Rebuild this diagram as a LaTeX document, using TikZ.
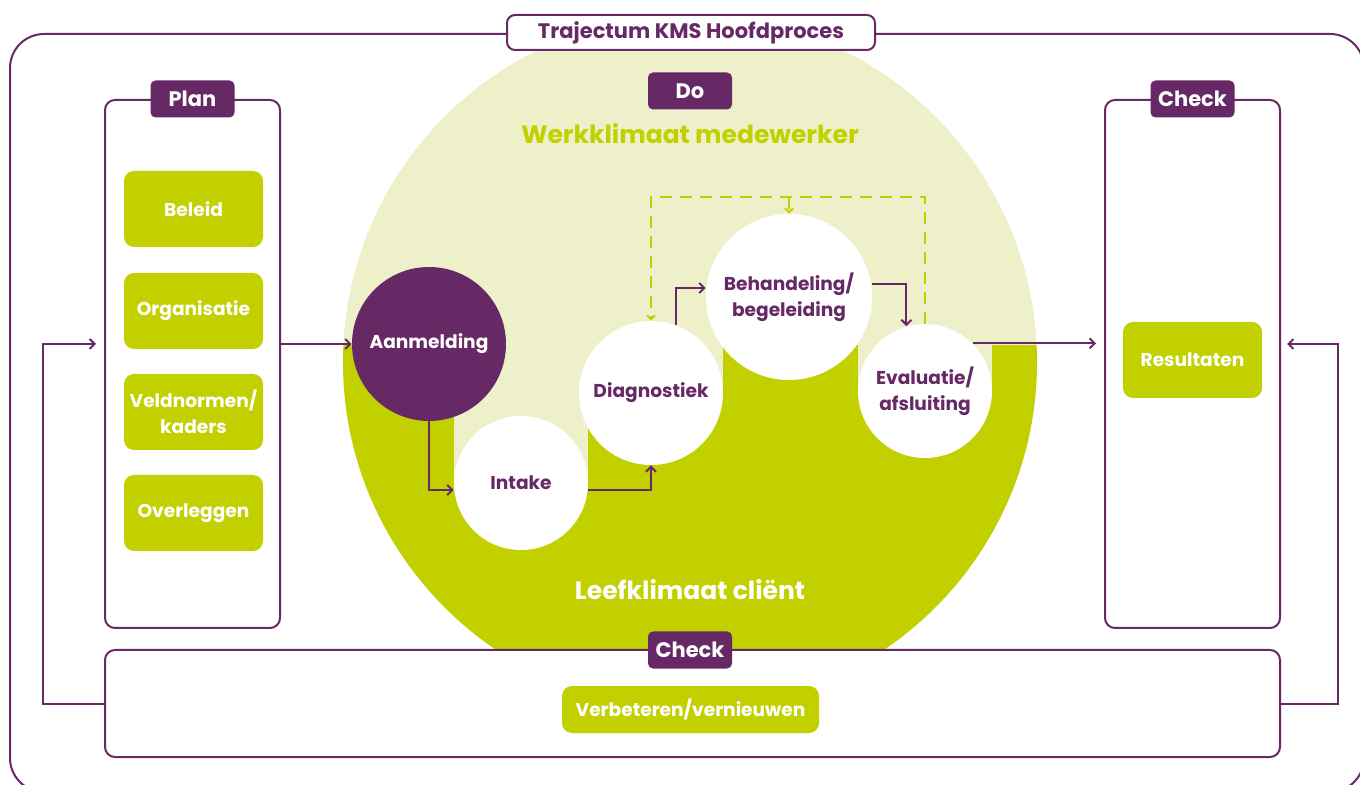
\documentclass[tikz,border=0pt]{standalone}
\usepackage{fontspec}
\setmainfont{Poppins}
\usetikzlibrary{arrows.meta,backgrounds}

\definecolor{kmspurple}{HTML}{672866}
\definecolor{kmslime}{HTML}{C2D000}
\definecolor{kmspale}{HTML}{EDF0C9}

\begin{document}
\begin{tikzpicture}[x=0.5pt, y=-0.5pt,
    label/.style={font=\bfseries\fontsize{9.3}{13}\selectfont, align=center},
    tab/.style={label, font=\bfseries\fontsize{10.5}{12}\selectfont,
                fill=kmspurple, text=white, rounded corners=2.5pt,
                minimum width=42pt, minimum height=18.5pt, inner sep=0pt},
    panel/.style={draw=kmspurple, line width=1pt, rounded corners=5pt, fill=white},
    item/.style={label, fill=kmslime, text=white, rounded corners=5pt,
                 minimum width=69.5pt, minimum height=38pt, inner sep=0pt},
    stage/.style={label, circle, fill=white, text=kmspurple, inner sep=0pt},
    flow/.style={draw=kmspurple, line width=1pt,
                 -{Straight Barb[length=2.5pt, width=5pt]}},
    retour/.style={draw=kmslime, line width=1pt, dash pattern=on 6pt off 4pt,
                   -{Straight Barb[length=2pt, width=4pt]}}]
    \useasboundingbox (0,0) rectangle (1360,785);
    \clip (0,0) rectangle (1360,785);

    % Title
    \node[label, fill=white, draw=kmspurple, line width=1pt, rounded corners=4pt,
          text=kmspurple, font=\bfseries\fontsize{10.5}{12}\selectfont,
          minimum width=184pt, minimum height=17.5pt, inner sep=0pt]
          (title) at (691,32.5) {Trajectum KMS Hoofdproces};

    % Plan
    \node[panel, minimum width=87.5pt, minimum height=264pt] (plan) at (192.5,364) {};
    \node[tab] (plantab) at (plan.north) {Plan};
    \foreach \y/\txt [count=\i] in {209/Beleid, 311/Organisatie,
                                    412/{Veldnormen/\\kaders}, 513/Overleggen} {
      \node[item] (plan\i) at (193.5,\y) {\txt};
    }

    % Check (right)
    \node[panel, minimum width=87.5pt, minimum height=264pt] (checkR) at (1192.5,364) {};
    \node[tab] (checkRtab) at (checkR.north) {Check};
    \node[item] (resultaten) at (1192.5,360) {Resultaten};

    % Do
    \coordinate (horizon) at (690,345);
    \node[tab] (dotab) at (690,91) {Do};
    \node[label, text=kmslime, font=\bfseries\fontsize{12.5}{14}\selectfont]
          (werk) at (690,134) {Werkklimaat medewerker};
    \node[label, text=white, font=\bfseries\fontsize{12.5}{14}\selectfont]
          (leef) at (690,590) {Leefklimaat cliënt};

    \node[stage, fill=kmspurple, text=white, minimum size=77pt] (aanmelding) at (429,344) {Aanmelding};
    \node[stage, minimum size=67pt] (intake) at (521,483) {Intake};
    \node[stage, minimum size=72pt] (diagnostiek) at (651,393) {Diagnostiek};
    \node[stage, minimum size=83pt] (behandeling) at (789,297) {Behandeling/\\begeleiding};
    \node[stage, minimum size=67pt] (evaluatie) at (925,391) {Evaluatie/\\afsluiting};

    % Check (bottom)
    \node[panel, minimum width=587.5pt, minimum height=53.5pt] (improve) at (692.5,703.5) {};
    \node[tab] (checkBtab) at (690,650) {Check};
    \node[item, minimum width=128.5pt, minimum height=23.5pt] (verbeteren) at (690.5,709.5)
          {Verbeteren/vernieuwen};

    % Frame and circle
    \begin{pgfonlayer}{background}
      \draw[kmspurple, line width=1pt, rounded corners=17pt] (10,34) rectangle (1364,792);
      \fill[kmspale] (690,362) circle[radius=173.5pt];
      \begin{scope}
        \clip (690,362) circle[radius=173.5pt];
        \fill[kmslime] (horizon -| 300,0) rectangle (1100,760);
        \foreach \s in {intake, diagnostiek, evaluatie}
          \fill[kmspale] (\s.west |- horizon) rectangle (\s.east);
      \end{scope}
    \end{pgfonlayer}

    % Process steps
    \draw[flow] (plan.east |- aanmelding) -- (aanmelding);
    \draw[flow] (aanmelding.south) |- ([yshift=-3.5pt]intake.west);
    \draw[flow] ([yshift=-3.5pt]intake.east) -| (diagnostiek.south);
    \draw[flow] (diagnostiek.70) |- ([yshift=4.5pt]behandeling.west);
    \draw[flow] ([yshift=6.5pt]behandeling.east) -| (evaluatie.106);
    \draw[flow, shorten >=4pt] (evaluatie.45) -- (evaluatie.45 -| checkR.west);

    % Feedback loop
    \coordinate (looptop) at (789,197);
    \draw[retour] (evaluatie.north) |- (looptop) -| (diagnostiek.north);
    \draw[retour] (looptop) -- (behandeling.north);

    % Back to plan and check
    \draw[flow, shorten >=4pt] (improve.west) -- ++(-61,0) |- (plan.west |- aanmelding);
    \draw[flow, shorten >=3pt] (improve.east) -- ++(57,0) |- (checkR.east |- aanmelding);
\end{tikzpicture}
\end{document}
